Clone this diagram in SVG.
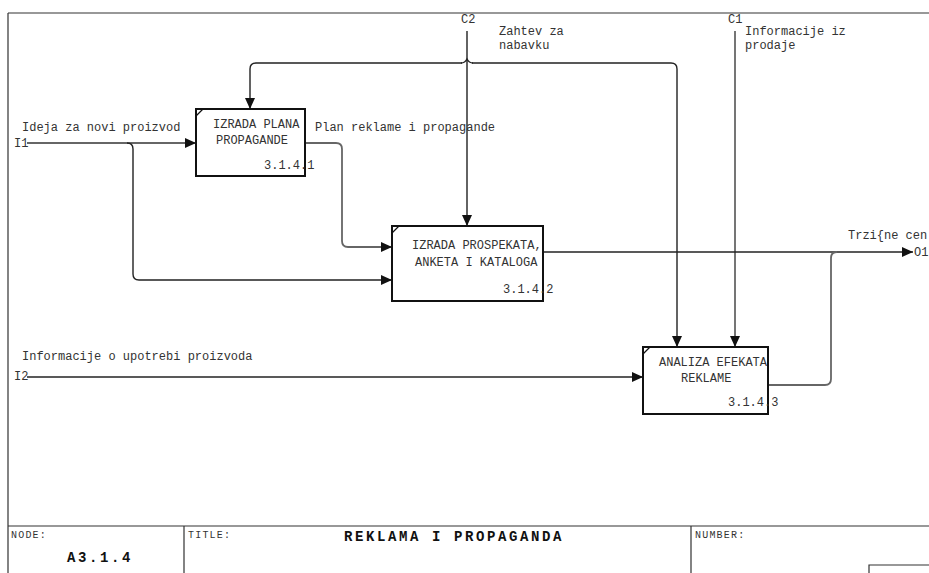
<svg xmlns="http://www.w3.org/2000/svg" width="929" height="573" viewBox="0 0 929 573">
  <style>
    text { font-family: "Liberation Mono", "Courier New", monospace; font-size: 12px; fill: #333; }
    .small { font-size: 10px; letter-spacing: 1.2px; }
    .big { font-size: 14px; font-weight: bold; letter-spacing: 2.6px; fill: #111; }
    .frame { fill: none; stroke: #333; stroke-width: 1.2; }
    .box { fill: #fff; stroke: #111; stroke-width: 2; }
    .corner { stroke: #111; stroke-width: 1.2; }
    .arc { fill: none; stroke: #222; stroke-width: 1.4; }
    .arc.grey { stroke: #666; stroke-width: 1.8; }
  </style>
  <defs>
    <marker id="head" markerWidth="12" markerHeight="10" refX="11" refY="5" orient="auto" markerUnits="userSpaceOnUse">
      <path d="M0,0 L11,5 L0,10 Z" fill="#111"/>
    </marker>
  </defs>

  <!-- sheet frame and title block -->
  <g id="frame">
    <path class="frame" d="M8,13 H929 M8,13 V573 M8,526 H929 M184,526 V573 M691,526 V573 M869,573 V565 H929"/>
    <text class="small" x="11" y="538">NODE:</text>
    <text class="big" x="67" y="562">A3.1.4</text>
    <text class="small" x="188" y="538">TITLE:</text>
    <text class="big" x="344" y="541">REKLAMA I PROPAGANDA</text>
    <text class="small" x="695" y="538">NUMBER:</text>
  </g>

  <!-- connectors -->
  <g id="connectors">
    <!-- I1 -->
    <path class="arc grey" d="M27,143 H196" marker-end="url(#head)"/>
    <path class="arc" d="M127,143 Q133,143 133,149 V274 Q133,280 139,280 H392" marker-end="url(#head)"/>
    <!-- output of 1 to 2 -->
    <path class="arc grey" d="M305,143 H336 Q342,143 342,149 V241 Q342,247 348,247 H392" marker-end="url(#head)"/>
    <!-- C2 -->
    <path class="arc" d="M467,31 V226" marker-end="url(#head)"/>
    <path class="arc" d="M462,63 H256 Q250,63 250,69 V109" marker-end="url(#head)"/>
    <path class="arc" d="M472,63 H671 Q677,63 677,69 V347" marker-end="url(#head)"/>
    <path class="arc" d="M461,63 Q465,63 467,59 Q469,63 473,63"/>
    <!-- C1 -->
    <path class="arc grey" d="M735,31 V347" marker-end="url(#head)"/>
    <!-- output of 2 to O1 -->
    <path class="arc" d="M543,252 H913" marker-end="url(#head)"/>
    <!-- output of 3 joins O1 -->
    <path class="arc grey" d="M768,385 H825 Q831,385 831,379 V258 Q831,252 837,252"/>
    <!-- I2 -->
    <path class="arc" d="M27,377 H643" marker-end="url(#head)"/>

    <text x="22" y="131">Ideja za novi proizvod</text>
    <text x="14" y="147">I1</text>
    <text x="315" y="131">Plan reklame i propagande</text>
    <text x="461" y="23">C2</text>
    <text x="499" y="35">Zahtev za</text>
    <text x="499" y="49">nabavku</text>
    <text x="728" y="23">C1</text>
    <text x="745" y="35">Informacije iz</text>
    <text x="745" y="49">prodaje</text>
    <text x="848" y="239">Trzi{ne cen</text>
    <text x="914" y="256">O1</text>
    <text x="22" y="360">Informacije o upotrebi proizvoda</text>
    <text x="14" y="380">I2</text>
  </g>

  <!-- activity boxes -->
  <g id="box1">
    <rect class="box" x="196" y="109" width="109" height="67"/>
    <line class="corner" x1="196" y1="116" x2="203" y2="109"/>
    <text x="213" y="128">IZRADA PLANA</text>
    <text x="216" y="144">PROPAGANDE</text>
    <text x="264" y="169">3.1.4.1</text>
  </g>
  <g id="box2">
    <rect class="box" x="392" y="226" width="151" height="75"/>
    <line class="corner" x1="392" y1="233" x2="399" y2="226"/>
    <text x="412" y="249">IZRADA PROSPEKATA,</text>
    <text x="415" y="266">ANKETA I KATALOGA</text>
    <text x="503" y="293">3.1.4.2</text>
  </g>
  <g id="box3">
    <rect class="box" x="643" y="347" width="125" height="67"/>
    <line class="corner" x1="643" y1="354" x2="650" y2="347"/>
    <text x="659" y="366">ANALIZA EFEKATA</text>
    <text x="681" y="382">REKLAME</text>
    <text x="728" y="406">3.1.4.3</text>
  </g>
</svg>
